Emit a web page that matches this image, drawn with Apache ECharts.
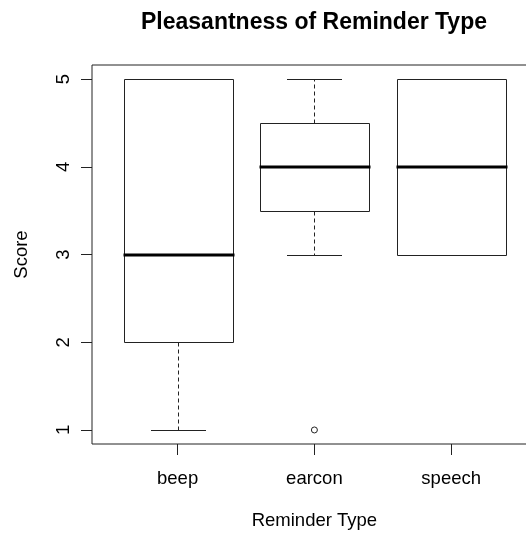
<!DOCTYPE html>
<html>
<head>
<meta charset="utf-8">
<script src="https://cdn.jsdelivr.net/npm/echarts@6/dist/echarts.min.js"></script>
<style>html,body{margin:0;padding:0;background:#fff}#c{width:526px;height:535px}</style>
</head>
<body>
<div id="c"></div>
<script>
// ---- data ----
const categories = ['beep', 'earcon', 'speech'];
const whiskerLow = [1, 3, 3];
const q1 = [2, 3.5, 3];
const medians = [3, 4, 4];
const q3 = [5, 4.5, 5];
const whiskerHigh = [5, 5, 5];
const outliers = [[1, 1]]; // [category index, value]
const yTicks = [1, 2, 3, 4, 5];
const yMin = 0.84, yMax = 5.16;

const boxData = categories.map((c, i) => [i, whiskerLow[i], q1[i], medians[i], q3[i], whiskerHigh[i]]);

const FONT = 'Liberation Sans, Arial, sans-serif';
const LINE = '#222';
const crisp = v => Math.round(v) + 0.5;

function renderBox(params, api) {
  const i = api.value(0);
  const pMin = api.coord([i, api.value(1)]);
  const pQ1 = api.coord([i, api.value(2)]);
  const pMed = api.coord([i, api.value(3)]);
  const pQ3 = api.coord([i, api.value(4)]);
  const pMax = api.coord([i, api.value(5)]);
  const band = api.size([1, 0])[0];
  const bw = band * 0.8;
  const cw = bw * 0.5;
  const cx = crisp(pMed[0]);
  const yMinP = crisp(pMin[1]), yQ1 = crisp(pQ1[1]), yMed = Math.round(pMed[1]), yQ3 = crisp(pQ3[1]), yMaxP = crisp(pMax[1]);
  const lx = Math.round(cx - bw / 2) + 0.5, rx = Math.round(cx + bw / 2) + 0.5;
  const dash = { stroke: LINE, lineWidth: 1, lineDash: [4, 3] };
  const solid = { stroke: LINE, lineWidth: 1 };
  return {
    type: 'group',
    children: [
      { type: 'line', shape: { x1: cx, y1: yQ3, x2: cx, y2: yMaxP }, style: dash },
      { type: 'line', shape: { x1: cx, y1: yQ1, x2: cx, y2: yMinP }, style: dash },
      { type: 'line', shape: { x1: Math.round(cx - cw / 2), y1: yMaxP, x2: Math.round(cx + cw / 2), y2: yMaxP }, style: solid },
      { type: 'line', shape: { x1: Math.round(cx - cw / 2), y1: yMinP, x2: Math.round(cx + cw / 2), y2: yMinP }, style: solid },
      { type: 'rect', shape: { x: lx, y: yQ3, width: rx - lx, height: yQ1 - yQ3 }, style: { fill: null, stroke: LINE, lineWidth: 1 } },
      { type: 'line', shape: { x1: lx - 1, y1: yMed, x2: rx + 1, y2: yMed }, style: { stroke: '#000', lineWidth: 3 } }
    ]
  };
}

const chart = echarts.init(document.getElementById('c'));
chart.setOption({
  backgroundColor: '#fff',
  animation: false,
  title: {
    text: 'Pleasantness of Reminder Type',
    left: 314, top: 11, padding: 0,
    textAlign: 'center',
    textStyle: { fontFamily: FONT, fontSize: 23, fontWeight: 'bold', color: '#000' }
  },
  grid: [
    { left: 92, top: 65, width: 444, height: 379, show: true, borderColor: LINE, borderWidth: 1, backgroundColor: 'transparent', outerBoundsMode: 'none', containLabel: false },
    { left: 109.2, top: 65, width: 410.4, height: 379, outerBoundsMode: 'none', containLabel: false }
  ],
  xAxis: [
    { type: 'value', gridIndex: 0, show: false, min: 0, max: 1 },
    {
      type: 'category', gridIndex: 1, data: categories, boundaryGap: true,
      name: 'Reminder Type', nameLocation: 'middle', nameGap: 67,
      nameTextStyle: { fontFamily: FONT, fontSize: 18.5, color: '#000' },
      axisLine: { show: false },
      axisTick: { show: true, alignWithLabel: true, length: 11, lineStyle: { color: LINE } },
      axisLabel: { margin: 25, fontFamily: FONT, fontSize: 18.5, color: '#000' },
      splitLine: { show: false }
    }
  ],
  yAxis: [
    {
      type: 'value', gridIndex: 0, min: yMin, max: yMax,
      name: 'Score', nameLocation: 'middle', nameRotate: 90, nameGap: 61,
      nameTextStyle: { fontFamily: FONT, fontSize: 18.5, color: '#000' },
      axisLine: { show: false },
      axisTick: { show: true, length: 11, customValues: yTicks, lineStyle: { color: LINE } },
      axisLabel: { rotate: 90, margin: 19, customValues: yTicks, fontFamily: FONT, fontSize: 18.5, color: '#000' },
      splitLine: { show: false }
    },
    { type: 'value', gridIndex: 1, min: yMin, max: yMax, show: false, splitLine: { show: false } }
  ],
  series: [
    {
      type: 'custom', xAxisIndex: 1, yAxisIndex: 1,
      renderItem: renderBox,
      encode: { x: 0, y: [1, 2, 3, 4, 5] },
      data: boxData
    },
    {
      type: 'scatter', xAxisIndex: 1, yAxisIndex: 1,
      symbol: 'circle', symbolSize: 6,
      itemStyle: { color: '#fff', borderColor: LINE, borderWidth: 1, opacity: 1 },
      data: outliers
    }
  ]
});
</script>
</body>
</html>
